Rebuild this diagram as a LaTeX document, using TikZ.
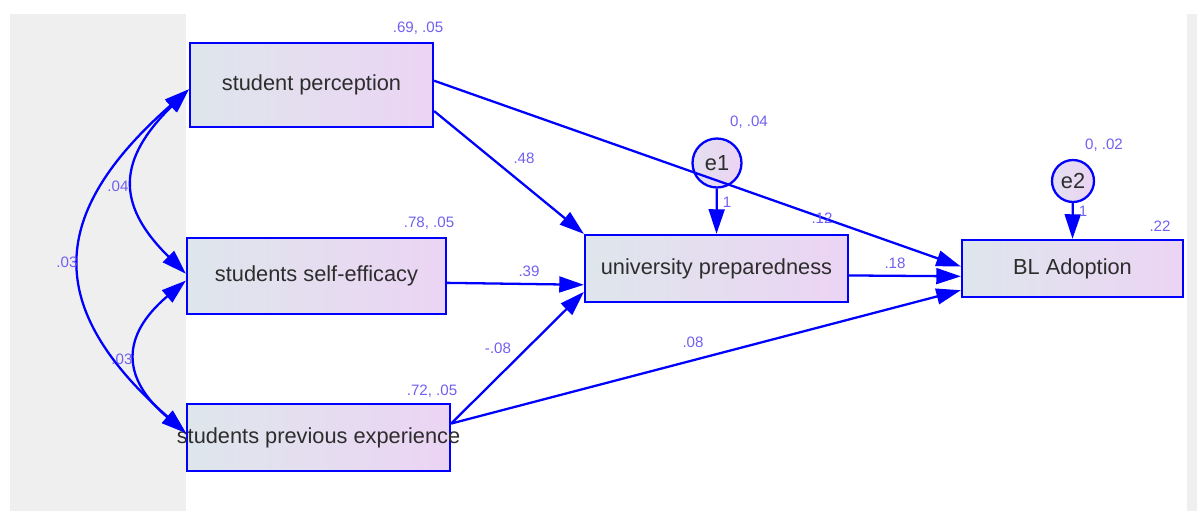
\documentclass[tikz,border=0pt]{standalone}
\usepackage{fontspec}
\setmainfont{Liberation Sans}
\usetikzlibrary{arrows.meta}

\definecolor{boxl}{RGB}{222,230,236}
\definecolor{boxr}{RGB}{236,212,244}
\definecolor{lbl}{RGB}{112,96,240}
\definecolor{bg}{RGB}{239,239,239}
\definecolor{txt}{RGB}{45,45,45}

\begin{document}
\begin{tikzpicture}[x=0.02cm, y=-0.02cm]
  \useasboundingbox (0,0) rectangle (1197,511);

  % Hintergrund.
  \fill[bg] (10,14) rectangle (186,511);
  \fill[bg] (1187,14) rectangle (1197,511);

  % Variablen.
  \tikzstyle{var}=[rectangle, draw=blue, line width=1.3pt, left color=boxl, right color=boxr, inner sep=0pt, text=txt, font=\fontsize{12.4}{14}\selectfont]
  \tikzstyle{err}=[circle, draw=blue, line width=1.3pt, left color=boxl!60!boxr, right color=boxr, inner sep=0pt, text=txt, font=\fontsize{12.4}{14}\selectfont]
  \tikzstyle{est}=[text=lbl, inner sep=0pt, font=\fontsize{8.6}{10}\selectfont]
  \tikzstyle{pfeil}=[draw=blue, line width=1.3pt, -{Triangle[length=14pt, width=9pt]}]
  \tikzstyle{cov}=[draw=blue, line width=1.3pt, {Triangle[length=14pt, width=9pt]}-{Triangle[length=14pt, width=9pt]}]

  \node[var, minimum width=4.86cm, minimum height=1.68cm] (sp) at (311.5,85) {student perception};
  \node[var, minimum width=5.18cm, minimum height=1.52cm] (se) at (316.5,276) {students self-efficacy};
  \node[var, minimum width=5.26cm, minimum height=1.34cm, inner xsep=-0.3cm] (pe) at (318.5,437.5) {students previous experience};
  \node[var, minimum width=5.26cm, minimum height=1.34cm] (up) at (716.5,268.5) {university preparedness};
  \node[var, minimum width=4.42cm, minimum height=1.14cm] (bl) at (1072.5,268.5) {BL Adoption};
  \node[err, minimum size=0.98cm] (e1) at (717,163) {e1};
  \node[err, minimum size=0.84cm] (e2) at (1073,181) {e2};

  % Pfade.
  \path[pfeil] (sp.-12.5) -- (up.north west);
  \path[pfeil] (sp.2) -- (bl.179);
  \path[pfeil] (se.-3) -- (up.187);
  \path[pfeil] (pe.6) -- (up.190);
  \path[pfeil] (pe.6) -- (bl.191.5);
  \path[pfeil] (up.-3) -- (bl.184);
  \path[pfeil] (e1) -- (up.north);
  \path[pfeil] (e2) -- (bl.north);

  % Kovarianzen.
  \path[cov] (sp.182) .. controls +(-71,70) and +(-71,-70) .. (se.179);
  \path[cov] (se.182) .. controls +(-65,55) and +(-65,-55) .. (pe.178);
  \path[cov] (sp.182) .. controls +(-142,125) and +(-142,-125) .. (pe.178);

  % Schaetzwerte.
  \node[est] (v1) at (418,28) {.69, .05};
  \node[est] (v2) at (429,223) {.78, .05};
  \node[est] (v3) at (432,391) {.72, .05};
  \node[est] (v4) at (749,122) {0, .04};
  \node[est] (v5) at (1104,145) {0, .02};
  \node[est] (v6) at (1160,226) {.22};

  \node[est] (w1) at (524,158) {.48};
  \node[est] (w2) at (822,218) {.12};
  \node[est] (w3) at (529,271) {.39};
  \node[est] (w4) at (498,348) {-.08};
  \node[est] (w5) at (693,342) {.08};
  \node[est] (w6) at (895,263) {.18};
  \node[est] (w7) at (727,202) {1};
  \node[est] (w8) at (1083,211) {1};

  \node[est] (c1) at (118,186) {.04};
  \node[est] (c2) at (67,262) {.03};
  \node[est] (c3) at (122,359) {.03};
\end{tikzpicture}
\end{document}
